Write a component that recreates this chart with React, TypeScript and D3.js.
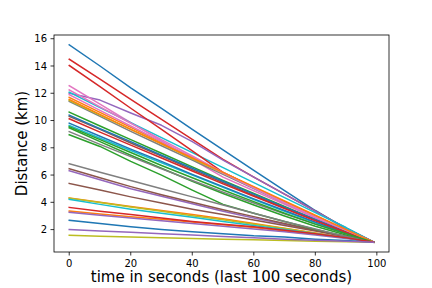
import React from 'react';
import * as d3 from 'd3';

const times = [0, 10, 20, 30, 40, 50, 60, 70, 80, 90, 99];

// distance (km) per runner, in plotting order
const distances: number[][] = [
  [15.55, 14.0, 12.4, 10.9, 9.35, 7.85, 6.35, 4.85, 3.4, 2.05, 1.08],
  [11.7, 10.6, 9.5, 8.4, 7.3, 6.2, 5.1, 4.05, 3.0, 1.95, 1.08],
  [10.62, 9.6, 8.6, 7.6, 6.6, 5.6, 4.65, 3.7, 2.75, 1.85, 1.08],
  [14.5, 13.03, 11.56, 10.09, 8.62, 7.15, 5.85, 4.6, 3.35, 2.1, 1.08],
  [12.0, 11.5, 10.55, 9.65, 8.45, 7.1, 5.85, 4.6, 3.35, 2.1, 1.08],
  [10.3, 9.35, 8.35, 7.4, 6.4, 5.45, 4.5, 3.6, 2.7, 1.85, 1.08],
  [12.55, 11.2, 9.85, 8.5, 7.15, 5.85, 4.85, 3.85, 2.85, 1.9, 1.08],
  [11.4, 10.3, 9.2, 8.15, 7.1, 6.05, 5.0, 3.95, 2.95, 1.95, 1.08],
  [11.47, 10.4, 9.35, 8.3, 7.2, 6.15, 5.1, 4.05, 3.0, 2.0, 1.08],
  [12.08, 10.95, 9.85, 8.75, 7.65, 6.55, 5.45, 4.35, 3.25, 2.15, 1.08],
  [10.4, 9.4, 8.45, 7.45, 6.5, 5.55, 4.6, 3.65, 2.75, 1.85, 1.08],
  [4.32, 4.0, 3.7, 3.4, 3.1, 2.8, 2.45, 2.1, 1.75, 1.4, 1.08],
  [9.47, 8.45, 7.45, 6.5, 5.55, 4.65, 3.8, 3.0, 2.25, 1.6, 1.08],
  [14.04, 12.48, 10.9, 9.35, 7.78, 6.2, 5.1, 4.0, 2.95, 1.95, 1.08],
  [6.32, 5.65, 5.0, 4.45, 3.9, 3.35, 2.85, 2.4, 1.95, 1.5, 1.08],
  [6.47, 5.8, 5.15, 4.55, 4.0, 3.45, 2.95, 2.45, 1.95, 1.5, 1.08],
  [12.25, 11.0, 9.8, 8.6, 7.4, 6.2, 5.1, 4.0, 2.95, 1.95, 1.08],
  [9.18, 8.25, 7.35, 6.45, 5.6, 4.75, 3.95, 3.15, 2.4, 1.7, 1.08],
  [4.3, 3.98, 3.66, 3.34, 3.02, 2.72, 2.4, 2.08, 1.74, 1.4, 1.08],
  [9.64, 8.7, 7.8, 6.9, 6.0, 5.1, 4.2, 3.35, 2.5, 1.75, 1.08],
  [9.81, 8.85, 7.9, 7.0, 6.05, 5.15, 4.25, 3.4, 2.55, 1.75, 1.08],
  [3.36, 3.15, 2.95, 2.75, 2.55, 2.35, 2.15, 1.9, 1.65, 1.4, 1.08],
  [8.96, 8.1, 7.0, 6.0, 4.9, 3.85, 3.2, 2.6, 2.0, 1.5, 1.08],
  [10.13, 9.15, 8.2, 7.25, 6.3, 5.35, 4.45, 3.55, 2.65, 1.8, 1.08],
  [3.27, 3.05, 2.85, 2.65, 2.45, 2.25, 2.05, 1.85, 1.6, 1.35, 1.08],
  [5.39, 4.9, 4.4, 3.95, 3.5, 3.1, 2.7, 2.3, 1.9, 1.5, 1.08],
  [11.9, 10.75, 9.6, 8.45, 7.3, 6.15, 5.05, 3.95, 2.9, 1.95, 1.08],
  [6.83, 6.2, 5.6, 5.0, 4.4, 3.8, 3.2, 2.6, 2.05, 1.5, 1.08],
  [1.58, 1.52, 1.46, 1.4, 1.35, 1.3, 1.25, 1.2, 1.15, 1.1, 1.08],
  [4.22, 3.85, 3.5, 3.2, 2.9, 2.6, 2.3, 2.0, 1.7, 1.4, 1.08],
  [2.68, 2.45, 2.2, 2.0, 1.85, 1.7, 1.55, 1.45, 1.3, 1.2, 1.08],
  [11.55, 10.45, 9.35, 8.3, 7.25, 6.2, 5.15, 4.1, 3.05, 2.0, 1.08],
  [9.55, 8.6, 7.65, 6.7, 5.8, 4.9, 4.05, 3.2, 2.4, 1.7, 1.08],
  [3.63, 3.35, 3.1, 2.85, 2.6, 2.4, 2.2, 1.95, 1.7, 1.4, 1.08],
  [2.0, 1.9, 1.8, 1.7, 1.6, 1.5, 1.4, 1.3, 1.22, 1.15, 1.08],
];

const xTicks = [0, 20, 40, 60, 80, 100];
const yTicks = [2, 4, 6, 8, 10, 12, 14, 16];

const tab10 = ['#1f77b4', '#ff7f0e', '#2ca02c', '#d62728', '#9467bd',
  '#8c564b', '#e377c2', '#7f7f7f', '#bcbd22', '#17becf'];

const W = 432, H = 288;
const margin = { top: 35, right: 43, bottom: 36, left: 54 };
const font = 'DejaVu Sans, sans-serif';

export default function App() {
  const innerW = W - margin.left - margin.right;
  const innerH = H - margin.top - margin.bottom;

  // matplotlib-style 5% padding around the data
  const allY = distances.flat();
  const tMin = d3.min(times)!, tMax = d3.max(times)!;
  const yMin = d3.min(allY)!, yMax = d3.max(allY)!;
  const tPad = (tMax - tMin) * 0.05, yPad = (yMax - yMin) * 0.05;

  const x = d3.scaleLinear().domain([tMin - tPad, tMax + tPad]).range([0, innerW]);
  const y = d3.scaleLinear().domain([yMin - yPad, yMax + yPad]).range([innerH, 0]);

  const line = d3.line<number>()
    .x((_, i) => x(times[i]))
    .y(d => y(d));

  return (
    <svg width={W} height={H} style={{ position: 'absolute', left: 0, top: 0, background: '#fff' }}>
      <g transform={`translate(${margin.left},${margin.top})`}>
        {distances.map((d, i) => (
          <path key={i} d={line(d) || ''} fill="none" stroke={tab10[i % 10]}
            strokeWidth={1.5} strokeLinejoin="round" strokeLinecap="square" />
        ))}

        {/* spines */}
        <rect x={0} y={0} width={innerW} height={innerH} fill="none" stroke="#000" strokeWidth={0.8} />

        {/* x axis */}
        {xTicks.map(t => (
          <g key={t} transform={`translate(${x(t)},${innerH})`}>
            <line y2={3.5} stroke="#000" strokeWidth={0.8} />
            <text y={15} textAnchor="middle" fontFamily={font} fontSize={10} fill="#000">{t}</text>
          </g>
        ))}
        {/* y axis */}
        {yTicks.map(t => (
          <g key={t} transform={`translate(0,${y(t)})`}>
            <line x2={-3.5} stroke="#000" strokeWidth={0.8} />
            <text x={-7} dy="0.36em" textAnchor="end" fontFamily={font} fontSize={10} fill="#000">{t}</text>
          </g>
        ))}

        <text x={innerW / 2} y={innerH + 30} textAnchor="middle" fontFamily={font} fontSize={15} fill="#000">
          time in seconds (last 100 seconds)
        </text>
        <text transform={`translate(${-27},${innerH / 2}) rotate(-90)`} textAnchor="middle"
          fontFamily={font} fontSize={15} fill="#000">
          Distance (km)
        </text>
      </g>
    </svg>
  );
}
